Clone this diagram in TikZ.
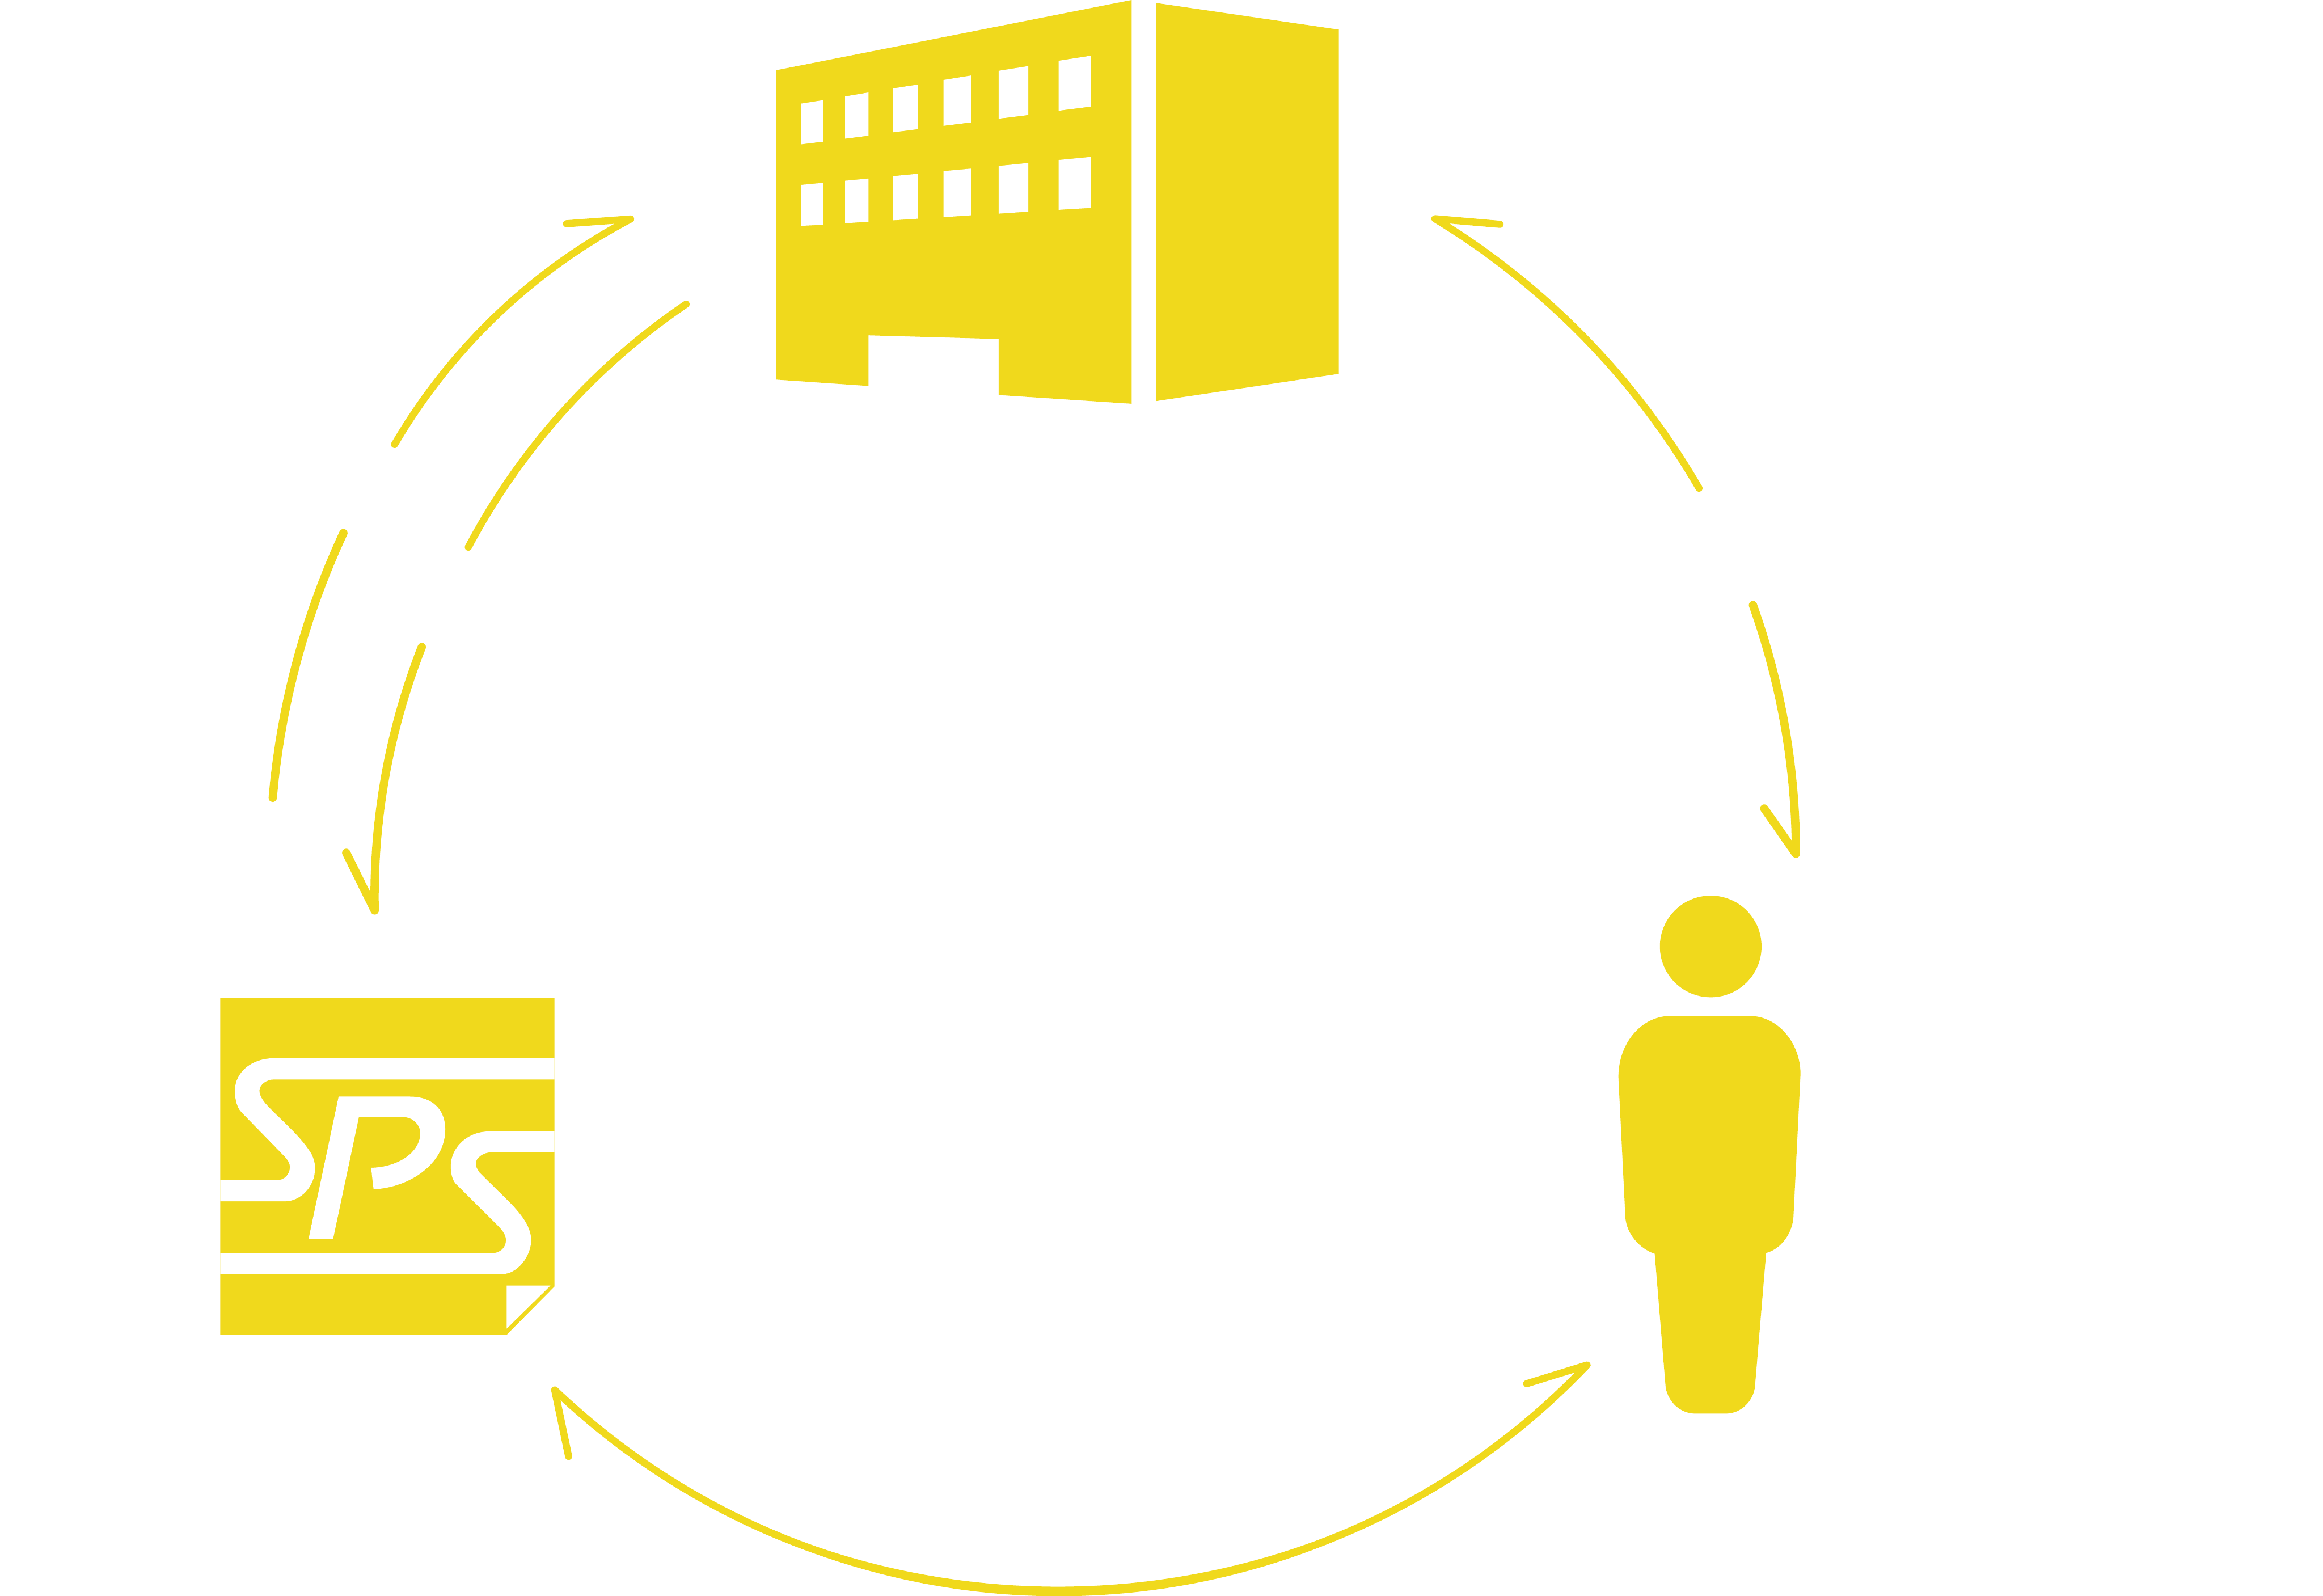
\documentclass[tikz,border=0pt]{standalone}
\usepackage{tikz}
\definecolor{spsyellow}{HTML}{F0D91C}
\tikzset{
  icon part/.style={fill=spsyellow},
  logo cut/.style={fill=white},
  loop arrow/.style={draw=spsyellow, line width=4.8pt, line cap=round, line join=round},
  steep arrow/.style={loop arrow, line width=5.6pt}
}
% one pane: left x, right x, then top and bottom y at both sides
\def\Pane#1#2#3#4#5#6{%
  \fill[white] (#1,#3) -- (#2,#4) -- (#2,#6) -- (#1,#5) -- cycle;
}
\begin{document}
\begin{tikzpicture}[x=1pt, y=-1pt]
\path[use as bounding box, fill=white] (0,0) rectangle (1568,1077);

% building
\fill[icon part] (524,47.4) -- (763.8,0) -- (763.8,272.5) -- (674.1,266.6) -- (674.1,228.8)
  -- (586.2,226.3) -- (586.2,260.5) -- (524,256.2) -- cycle;
\fill[icon part] (780.3,2) -- (903.7,20) -- (903.7,252.3) -- (780.3,270.7) -- cycle;
\Pane{540.8}{555.5}{69.9}{67.6}{97.4}{95.6}
\Pane{570.4}{586.2}{65.1}{62.4}{93.6}{91.6}
\Pane{602.6}{619.3}{59.7}{57.1}{89.3}{87.2}
\Pane{636.8}{655.3}{54}{51}{84.9}{82.6}
\Pane{674.1}{694.1}{47.8}{44.6}{80.1}{77.6}
\Pane{714.6}{736.4}{41}{37.6}{74.7}{71.9}
\Pane{540.8}{555.5}{124.8}{123.4}{152.4}{151.7}
\Pane{570.4}{586.2}{122}{120.5}{150.7}{149.6}
\Pane{602.6}{619.3}{118.9}{117.3}{148.7}{147.6}
\Pane{636.8}{655.3}{115.5}{113.8}{146.6}{145.3}
\Pane{674.1}{694.1}{112}{110}{144.2}{142.8}
\Pane{714.6}{736.4}{108}{105.9}{141.6}{140.3}

% logo
\begin{scope}[shift={(141.3,665.3)}, x=0.1502pt, y=-0.154pt]
  \fill[icon part] (49,53) -- (1551,53) -- (1551,1318) -- (1336,1530) -- (49,1530) -- cycle;
  \fill[logo cut] (1336,1314) -- (1533,1314) -- (1336,1503) -- cycle;
  % first S
  \fill[logo cut] (49,853) -- (300,853) .. controls (340,853) and (362,825) .. (362,795)
    .. controls (362,775) and (350,762) .. (340,750) -- (145,555)
    .. controls (125,535) and (115,500) .. (115,460)
    .. controls (115,380) and (190,318) .. (290,318) -- (1551,318) -- (1551,411) -- (290,411)
    .. controls (255,411) and (225,435) .. (225,460)
    .. controls (225,485) and (245,510) .. (270,535)
    .. controls (330,595) and (420,670) .. (460,740)
    .. controls (470,760) and (475,780) .. (475,800)
    .. controls (475,880) and (410,945) .. (340,945) -- (49,945) -- cycle;
  % P
  \fill[logo cut] (581,486) -- (900,486) .. controls (1000,486) and (1060,540) .. (1060,630)
    .. controls (1060,780) and (900,885) .. (738,892) -- (727,798)
    .. controls (850,795) and (948,730) .. (948,645)
    .. controls (948,610) and (915,576) .. (872,576) -- (672,576) -- (556,1110) -- (446,1110) -- cycle;
  % second S
  \fill[logo cut] (1551,639) -- (1255,639) .. controls (1160,639) and (1085,710) .. (1085,790)
    .. controls (1085,830) and (1095,860) .. (1115,875) -- (1300,1055)
    .. controls (1320,1075) and (1333,1095) .. (1333,1115)
    .. controls (1333,1150) and (1305,1173) .. (1265,1173) -- (49,1173) -- (49,1264) -- (1315,1264)
    .. controls (1385,1264) and (1446,1185) .. (1446,1115)
    .. controls (1446,1050) and (1390,990) .. (1345,945) -- (1215,820)
    .. controls (1205,805) and (1197,795) .. (1197,780)
    .. controls (1197,755) and (1230,730) .. (1268,730) -- (1551,730) -- cycle;
\end{scope}

% person
\fill[icon part] (1154.7,638.8) circle (34.3);
\fill[icon part] (1092.4,727) .. controls (1092.4,704) and (1108,685.7) .. (1127.7,685.7) -- (1180.9,685.7)
  .. controls (1200,685.7) and (1215.3,704) .. (1215.3,725) -- (1210.5,821.8)
  .. controls (1209.5,833) and (1202,843) .. (1192.1,845.7) -- (1184.5,936.5)
  .. controls (1183,946) and (1175,954.1) .. (1164.8,954.1) -- (1144.3,954.1)
  .. controls (1134,954.1) and (1126,946) .. (1124.3,936.5) -- (1116.9,846.2)
  .. controls (1107,843) and (1098,833) .. (1097.1,821.8) -- cycle;

% arrow ends
\coordinate (outerA) at (266.3,300);
\coordinate (outerAtip) at (425.7,147.8);
\coordinate (outerAbarb) at (382.4,151);
\coordinate (innerA) at (316.1,369.3);
\coordinate (innerAend) at (463.1,205.3);
\coordinate (outerB) at (231.8,359.8);
\coordinate (outerBend) at (184.1,538.5);
\coordinate (innerB) at (284.7,436.7);
\coordinate (innerBtip) at (252.9,614.5);
\coordinate (innerBbarb) at (233.7,575.6);
\coordinate (rightAtip) at (968.5,147.6);
\coordinate (rightAbarb) at (1012.5,151.4);
\coordinate (rightAend) at (1146.8,329.5);
\coordinate (rightB) at (1183.2,408.4);
\coordinate (rightBtip) at (1212.2,576.3);
\coordinate (rightBbarb) at (1190.8,545.7);
\coordinate (lowL) at (374.4,938.1);
\coordinate (lowLbarb) at (383.8,983);
\coordinate (lowR) at (1071.3,921.3);
\coordinate (lowRbarb) at (1030.5,933.9);

\draw[loop arrow] (outerA) .. controls (304.1,235.4) and (359.3,182.6) .. (outerAtip) -- (outerAbarb);
\draw[loop arrow] (innerA) .. controls (351,303.5) and (401.4,247.1) .. (innerAend);
\draw[steep arrow] (outerB) .. controls (205.6,416.1) and (189.5,476.6) .. (outerBend);
\draw[steep arrow] (innerB) .. controls (262.5,493.3) and (251.7,553.7) .. (innerBtip) -- (innerBbarb);
\draw[loop arrow] (rightAbarb) -- (rightAtip) .. controls (1042.2,192.4) and (1103.5,254.9) .. (rightAend);
\draw[steep arrow] (rightB) .. controls (1202.4,462.3) and (1212.2,519) .. (rightBtip) -- (rightBbarb);
\draw[loop arrow] (lowLbarb) -- (lowL) .. controls (571.4,1125.9) and (883.5,1118.3) .. (lowR) -- (lowRbarb);
% thicker towards the bottom
\fill[icon part] (lowL) .. controls (571.4,1130.2) and (883.5,1122.6) .. (lowR)
  .. controls (883.5,1114) and (571.4,1121.6) .. (lowL) -- cycle;
\end{tikzpicture}
\end{document}
